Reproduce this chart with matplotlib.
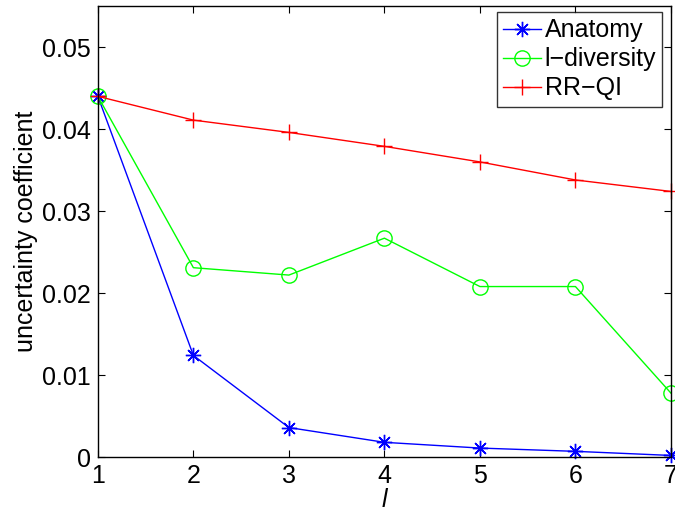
import matplotlib
matplotlib.use('Agg')
import matplotlib.pyplot as plt

plt.rcParams['font.family'] = ['Liberation Sans', 'DejaVu Sans']

x = [1, 2, 3, 4, 5, 6, 7]
anatomy = [0.0440, 0.0124, 0.0036, 0.0018, 0.0011, 0.0007, 0.0002]
ldiversity = [0.0440, 0.0231, 0.0222, 0.0267, 0.0208, 0.0208, 0.0078]
rrqi = [0.0440, 0.0411, 0.0396, 0.0379, 0.0360, 0.0338, 0.0324]

fig = plt.figure(figsize=(6.75, 5.13), dpi=100)
ax = fig.add_axes([0.145, 0.109, 0.849, 0.879])

# matlab style asterisk: + and x together
ax.plot(x, anatomy, color='#0000ff', marker=(8, 2, 0), markersize=11, lw=1,
        markeredgewidth=1, label='Anatomy', clip_on=False)
ax.plot(x, ldiversity, color='#00ff00', marker='o', markersize=11, lw=1,
        markerfacecolor='none', label='l\u2212diversity', clip_on=False)
ax.plot(x, rrqi, color='#ff0000', marker='+', markersize=11, lw=1,
        label='RR\u2212QI', clip_on=False)

ax.set_xlim(1, 7)
ax.set_ylim(0, 0.055)
ax.set_xticks(x)
ax.set_yticks([0, 0.01, 0.02, 0.03, 0.04, 0.05])
ax.set_yticklabels(['0', '0.01', '0.02', '0.03', '0.04', '0.05'])
ax.tick_params(direction='in', top=True, right=True, labelsize=18, length=5,
               width=0.8, pad=5)
for s in ax.spines.values():
    s.set_linewidth(1)

ax.set_xlabel('l', fontsize=18, style='italic', labelpad=0)
ax.set_ylabel('uncertainty coefficient', fontsize=18, labelpad=3)

leg = ax.legend(loc='upper right', bbox_to_anchor=(0.985, 0.987), fontsize=18,
                frameon=True, fancybox=False, edgecolor='black',
                handlelength=1.5, handletextpad=0.15, labelspacing=0.2,
                borderpad=0.25, borderaxespad=0)
leg.get_frame().set_linewidth(1)

fig.savefig('out.png', dpi=100)
